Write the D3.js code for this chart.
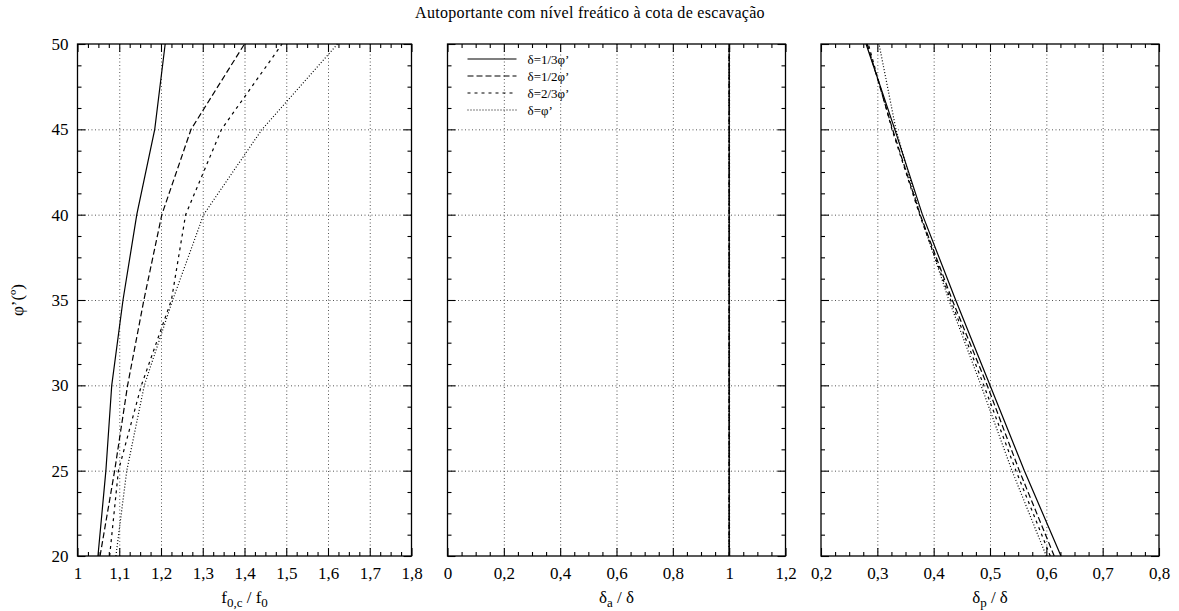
<!DOCTYPE html>
<html>
<head>
<meta charset="utf-8">
<script src="https://cdn.jsdelivr.net/npm/d3@7"></script>
<style>
  body { margin: 0; background: #fff; }
  svg, svg text { font-family: "Liberation Serif", "Times New Roman", serif; }
  .frame { fill: none; stroke: #000; stroke-width: 1.3; }
  .tick line { stroke: #000; stroke-width: 1.1; }
  .tick text { font-size: 17px; fill: #000; font-family: "Liberation Serif", serif; }
  .grid .tick line { stroke: #555; stroke-width: 1; stroke-dasharray: 1,2.5; }
  .grid .domain, .ax .domain { display: none; }
  .curve { fill: none; stroke: #000; stroke-width: 1.2; }
</style>
</head>
<body>
<svg id="chart"></svg>
<script>
// ------------------------------------------------------------
// Three panels sharing the phi' axis (20..50 degrees)
// ------------------------------------------------------------

const W = 1179;
const H = 611;

// phi' values where the curves were computed
const phi = [20, 25, 30, 35, 40, 45, 50];

// legend labels, one per series
const seriesNames = ["δ=1/3φ’", "δ=1/2φ’", "δ=2/3φ’", "δ=φ’"];

// left panel: f0,c / f0
const f0Third     = [1.049, 1.068, 1.082, 1.109, 1.142, 1.185, 1.210];
const f0Half      = [1.054, 1.089, 1.120, 1.159, 1.202, 1.272, 1.400];
const f0TwoThirds = [1.077, 1.098, 1.153, 1.225, 1.259, 1.345, 1.490];
const f0Full      = [1.092, 1.118, 1.160, 1.228, 1.302, 1.442, 1.623];

// middle panel: delta_a / delta
const daThird     = [1, 1, 1, 1, 1, 1, 1];
const daHalf      = [1, 1, 1, 1, 1, 1, 1];
const daTwoThirds = [1, 1, 1, 1, 1, 1, 1];
const daFull      = [1, 1, 1, 1, 1, 1, 1];

// right panel: delta_p / delta
const dpThird     = [0.626, 0.561, 0.500, 0.439, 0.380, 0.331, 0.280];
const dpHalf      = [0.614, 0.552, 0.495, 0.433, 0.376, 0.327, 0.282];
const dpTwoThirds = [0.607, 0.546, 0.489, 0.430, 0.375, 0.326, 0.284];
const dpFull      = [0.600, 0.539, 0.484, 0.427, 0.376, 0.333, 0.303];

// axis ticks
const phiTicks = [20, 25, 30, 35, 40, 45, 50];
const f0Ticks = [1, 1.1, 1.2, 1.3, 1.4, 1.5, 1.6, 1.7, 1.8];
const daTicks = [0, 0.2, 0.4, 0.6, 0.8, 1, 1.2];
const dpTicks = [0.2, 0.3, 0.4, 0.5, 0.6, 0.7, 0.8];

const titleText = "Autoportante com nível freático à cota de escavação";

// dash styles: solid, long dash, short dash, dotted
const dashes = [null, "6,3", "3,4", "1,2"];

const svg = d3.select("#chart")
  .attr("width", W)
  .attr("height", H);

const plotTop = 44, plotBottom = 556;

const y = d3.scaleLinear().domain([20, 50]).range([plotBottom, plotTop]);

// minor ticks: 4 subdivisions per major step
function minorTicks(ticks) {
  const out = [];
  for (let i = 0; i < ticks.length - 1; i++) {
    const step = (ticks[i + 1] - ticks[i]) / 4;
    for (let k = 1; k < 4; k++) out.push(ticks[i] + k * step);
  }
  return out;
}

const fmt = d => String(+d.toFixed(2)).replace(".", ",");

const panels = [
  { x0: 77.5, x1: 411.5, ticks: f0Ticks, series: [f0Third, f0Half, f0TwoThirds, f0Full], yLabels: true },
  { x0: 447.5, x1: 785.5, ticks: daTicks, series: [daThird, daHalf, daTwoThirds, daFull], yLabels: false },
  { x0: 821, x1: 1159, ticks: dpTicks, series: [dpThird, dpHalf, dpTwoThirds, dpFull], yLabels: false }
];

// d3 axes put sans-serif on their group; drop it so the serif CSS applies
function plain(sel) {
  sel.attr("font-family", null).attr("font-size", null);
}

panels.forEach(function(p) {
  const x = d3.scaleLinear()
    .domain([p.ticks[0], p.ticks[p.ticks.length - 1]])
    .range([p.x0, p.x1]);
  const g = svg.append("g");

  // grid
  g.append("g").attr("class", "grid")
    .attr("transform", `translate(0,${plotBottom})`)
    .call(d3.axisBottom(x).tickValues(p.ticks.slice(1, -1)).tickSize(-(plotBottom - plotTop)).tickFormat(""));
  g.append("g").attr("class", "grid")
    .attr("transform", `translate(${p.x0},0)`)
    .call(d3.axisLeft(y).tickValues(phiTicks.slice(1, -1)).tickSize(-(p.x1 - p.x0)).tickFormat(""));

  // curves
  const line = d3.line()
    .x(d => x(d[0]))
    .y(d => y(d[1]));
  p.series.forEach(function(vals, si) {
    g.append("path")
      .attr("class", "curve")
      .attr("d", line(vals.map((v, i) => [v, phi[i]])))
      .attr("stroke-dasharray", dashes[si]);
  });

  // ticks on all four sides, pointing inward
  const minX = minorTicks(p.ticks);
  const minY = minorTicks(phiTicks);

  g.append("g").attr("class", "ax")
    .attr("transform", `translate(0,${plotBottom})`)
    .call(d3.axisBottom(x).tickValues(p.ticks).tickSize(-8).tickPadding(11).tickFormat(fmt))
    .call(plain);
  g.append("g").attr("class", "ax")
    .attr("transform", `translate(0,${plotBottom})`)
    .call(d3.axisBottom(x).tickValues(minX).tickSize(-4).tickFormat(""));
  g.append("g").attr("class", "ax")
    .attr("transform", `translate(0,${plotTop})`)
    .call(d3.axisTop(x).tickValues(p.ticks).tickSize(-8).tickFormat(""));
  g.append("g").attr("class", "ax")
    .attr("transform", `translate(0,${plotTop})`)
    .call(d3.axisTop(x).tickValues(minX).tickSize(-4).tickFormat(""));

  g.append("g").attr("class", "ax")
    .attr("transform", `translate(${p.x0},0)`)
    .call(d3.axisLeft(y).tickValues(phiTicks).tickSize(-8).tickPadding(9)
      .tickFormat(p.yLabels ? d3.format("d") : ""))
    .call(plain);
  g.append("g").attr("class", "ax")
    .attr("transform", `translate(${p.x0},0)`)
    .call(d3.axisLeft(y).tickValues(minY).tickSize(-4).tickFormat(""));
  g.append("g").attr("class", "ax")
    .attr("transform", `translate(${p.x1},0)`)
    .call(d3.axisRight(y).tickValues(phiTicks).tickSize(-8).tickFormat(""));
  g.append("g").attr("class", "ax")
    .attr("transform", `translate(${p.x1},0)`)
    .call(d3.axisRight(y).tickValues(minY).tickSize(-4).tickFormat(""));

  g.append("rect").attr("class", "frame")
    .attr("x", p.x0).attr("y", plotTop)
    .attr("width", p.x1 - p.x0).attr("height", plotBottom - plotTop);
});

// x axis titles with subscripts
function axisTitle(cx, parts) {
  const t = svg.append("text")
    .attr("x", cx).attr("y", 603)
    .attr("text-anchor", "middle")
    .style("font-size", "17px");
  parts.forEach(function(pt) {
    t.append("tspan")
      .attr("dy", pt.sub ? 4 : (pt.after ? -4 : 0))
      .style("font-size", pt.sub ? "13px" : "17px")
      .text(pt.t);
  });
}
axisTitle((panels[0].x0 + panels[0].x1) / 2, [
  { t: "f" }, { t: "0,c", sub: true }, { t: " / f", after: true }, { t: "0", sub: true }
]);
axisTitle((panels[1].x0 + panels[1].x1) / 2, [
  { t: "δ" }, { t: "a", sub: true }, { t: " / δ", after: true }
]);
axisTitle((panels[2].x0 + panels[2].x1) / 2, [
  { t: "δ" }, { t: "p", sub: true }, { t: " / δ", after: true }
]);

// y axis title
svg.append("text")
  .attr("transform", "translate(23,300) rotate(-90)")
  .attr("text-anchor", "middle")
  .style("font-size", "17px")
  .text("φ’(º)");

// title
svg.append("text")
  .attr("x", 590).attr("y", 18)
  .attr("text-anchor", "middle")
  .style("font-size", "16px")
  .style("letter-spacing", "0.3px")
  .text(titleText);

// legend inside the middle panel
const legend = svg.append("g")
  .attr("transform", `translate(${panels[1].x0 + 20},59)`);
seriesNames.forEach(function(name, i) {
  const row = legend.append("g").attr("transform", `translate(0,${i * 17})`);
  row.append("line")
    .attr("class", "curve")
    .attr("x1", 0).attr("x2", 49)
    .attr("stroke-dasharray", dashes[i]);
  row.append("text")
    .attr("x", 60).attr("dy", "0.35em")
    .style("font-size", "13px")
    .text(name);
});
</script>
</body>
</html>
